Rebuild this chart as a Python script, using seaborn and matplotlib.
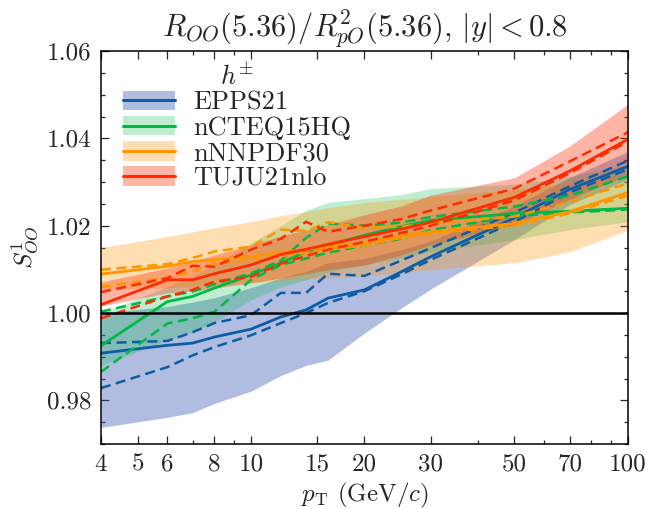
import numpy as np
import pandas as pd
import matplotlib
matplotlib.use("Agg")
import matplotlib.pyplot as plt
from matplotlib.patches import Patch
from matplotlib.lines import Line2D
from matplotlib.ticker import FixedLocator, NullFormatter, MultipleLocator
import seaborn as sns

# ---------------- data ----------------
pt = [4, 6, 7, 8, 10, 12, 14, 16, 20, 25, 30, 50, 70, 100]

epps_c = [0.9908, 0.9926, 0.9931, 0.9945, 0.9963, 0.9991, 1.0007, 1.0034, 1.0053, 1.0094, 1.0129, 1.0218, 1.0283, 1.0336]
epps_hi = [0.9931, 0.9936, 0.9956, 0.9977, 0.9995, 1.0046, 1.0046, 1.0090, 1.0085, 1.0120, 1.0149, 1.0230, 1.0290, 1.0349]
epps_lo = [0.9828, 0.9876, 0.9903, 0.9922, 0.9949, 0.9977, 1.0000, 1.0023, 1.0050, 1.0088, 1.0122, 1.0209, 1.0276, 1.0329]
epps_band_lo = [0.9738, 0.9761, 0.9772, 0.9793, 0.9821, 0.9857, 0.9880, 0.9892, 0.9954, 1.0011, 1.0055, 1.0168, 1.0248, 1.0306]
epps_band_hi = [1.0000, 1.0015, 1.0025, 1.0035, 1.0058, 1.0080, 1.0095, 1.0115, 1.0125, 1.0145, 1.0165, 1.0245, 1.0310, 1.0370]

ncteq_c = [0.9925, 1.0026, 1.0038, 1.0057, 1.0087, 1.0115, 1.0140, 1.0156, 1.0178, 1.0198, 1.0212, 1.0228, 1.0233, 1.0240]
ncteq_hi = [1.0003, 1.0038, 1.0049, 1.0066, 1.0091, 1.0120, 1.0172, 1.0205, 1.0200, 1.0207, 1.0220, 1.0244, 1.0269, 1.0313]
ncteq_lo = [0.9865, 0.9976, 0.9988, 1.0003, 1.0076, 1.0110, 1.0125, 1.0138, 1.0155, 1.0170, 1.0190, 1.0222, 1.0230, 1.0237]
ncteq_band_lo = [0.9880, 0.9938, 0.9956, 0.9979, 1.0030, 1.0060, 1.0076, 1.0094, 1.0110, 1.0126, 1.0140, 1.0168, 1.0191, 1.0209]
ncteq_band_hi = [1.0000, 1.0060, 1.0085, 1.0110, 1.0160, 1.0200, 1.0235, 1.0253, 1.0262, 1.0271, 1.0285, 1.0295, 1.0312, 1.0340]

nnpdf_c = [1.0089, 1.0107, 1.0118, 1.0122, 1.0130, 1.0138, 1.0145, 1.0152, 1.0161, 1.0177, 1.0186, 1.0205, 1.0232, 1.0276]
nnpdf_hi = [1.0099, 1.0112, 1.0126, 1.0141, 1.0152, 1.0191, 1.0188, 1.0208, 1.0195, 1.0198, 1.0205, 1.0221, 1.0255, 1.0297]
nnpdf_lo = [1.0060, 1.0081, 1.0095, 1.0114, 1.0122, 1.0130, 1.0138, 1.0145, 1.0155, 1.0172, 1.0182, 1.0200, 1.0228, 1.0269]
nnpdf_band_lo = [1.0053, 1.0058, 1.0060, 1.0064, 1.0069, 1.0073, 1.0078, 1.0080, 1.0085, 1.0092, 1.0099, 1.0115, 1.0140, 1.0190]
nnpdf_band_hi = [1.0150, 1.0175, 1.0186, 1.0195, 1.0209, 1.0223, 1.0232, 1.0241, 1.0253, 1.0260, 1.0267, 1.0283, 1.0297, 1.0315]

tuju_c = [1.0019, 1.0076, 1.0076, 1.0090, 1.0110, 1.0134, 1.0146, 1.0157, 1.0175, 1.0192, 1.0208, 1.0265, 1.0325, 1.0398]
tuju_hi = [1.0048, 1.0080, 1.0108, 1.0106, 1.0145, 1.0170, 1.0209, 1.0186, 1.0200, 1.0215, 1.0235, 1.0285, 1.0347, 1.0414]
tuju_lo = [0.9988, 1.0038, 1.0053, 1.0072, 1.0083, 1.0113, 1.0131, 1.0145, 1.0163, 1.0183, 1.0200, 1.0258, 1.0320, 1.0393]
tuju_band_lo = [1.0016, 1.0046, 1.0050, 1.0057, 1.0069, 1.0080, 1.0090, 1.0099, 1.0110, 1.0133, 1.0156, 1.0202, 1.0260, 1.0317]
tuju_band_hi = [1.0071, 1.0103, 1.0118, 1.0133, 1.0156, 1.0176, 1.0190, 1.0202, 1.0225, 1.0245, 1.0270, 1.0310, 1.0382, 1.0478]

names = ["EPPS21", "nCTEQ15HQ", "nNNPDF30", "TUJU21nlo"]
line_colors = ["#0C5DA5", "#00B945", "#FF9500", "#FF2C00"]
band_colors = ["#3A5BB5", "#00B945", "#FF9500", "#FF2C00"]
band_alphas = [0.40, 0.25, 0.30, 0.35]

xticks = [4, 5, 6, 8, 10, 15, 20, 30, 50, 70, 100]
xminor = [7, 9, 40, 60, 80, 90]

# ---------------- style ----------------
sns.set_theme(style="ticks")
plt.rcParams.update({
    "font.family": "serif",
    "font.serif": ["cmr10", "DejaVu Serif"],
    "mathtext.fontset": "cm",
    "axes.formatter.use_mathtext": True,
    "axes.unicode_minus": False,
    "font.size": 17,
    "xtick.direction": "in",
    "ytick.direction": "in",
    "xtick.top": True,
    "ytick.right": True,
    "xtick.major.size": 5.5,
    "ytick.major.size": 5.5,
    "xtick.minor.size": 3,
    "ytick.minor.size": 3,
    "xtick.major.width": 0.9,
    "ytick.major.width": 0.9,
    "xtick.minor.width": 0.9,
    "ytick.minor.width": 0.9,
    "axes.linewidth": 1.1,
    "axes.edgecolor": "black",
})

fig = plt.figure(figsize=(6.49, 5.09), dpi=100)
ax = fig.add_axes([0.1556, 0.1277, 0.8120, 0.7721])

series = [
    (epps_c, epps_hi, epps_lo, epps_band_lo, epps_band_hi),
    (ncteq_c, ncteq_hi, ncteq_lo, ncteq_band_lo, ncteq_band_hi),
    (nnpdf_c, nnpdf_hi, nnpdf_lo, nnpdf_band_lo, nnpdf_band_hi),
    (tuju_c, tuju_hi, tuju_lo, tuju_band_lo, tuju_band_hi),
]

for i, (c, hi, lo, blo, bhi) in enumerate(series):
    ax.fill_between(pt, blo, bhi, color=band_colors[i], alpha=band_alphas[i], lw=0)

for i, (c, hi, lo, blo, bhi) in enumerate(series):
    df = pd.DataFrame({"pt": pt, "c": c, "hi": hi, "lo": lo})
    sns.lineplot(data=df, x="pt", y="hi", color=line_colors[i], lw=1.8,
                 linestyle=(0, (4, 2.2)), ax=ax)
    sns.lineplot(data=df, x="pt", y="lo", color=line_colors[i], lw=1.8,
                 linestyle=(0, (4, 2.2)), ax=ax)
    sns.lineplot(data=df, x="pt", y="c", color=line_colors[i], lw=2.0, ax=ax)

ax.axhline(1.0, color="black", lw=1.8, zorder=5)

ax.set_xscale("log")
ax.set_xlim(4, 100)
ax.set_ylim(0.97, 1.06)
ax.xaxis.set_major_locator(FixedLocator(xticks))
ax.set_xticklabels([str(t) for t in xticks])
ax.xaxis.set_minor_locator(FixedLocator(xminor))
ax.xaxis.set_minor_formatter(NullFormatter())
ax.yaxis.set_major_locator(MultipleLocator(0.02))
ax.yaxis.set_minor_locator(MultipleLocator(0.005))
ax.set_yticks([0.98, 1.00, 1.02, 1.04, 1.06])
ax.set_yticklabels(["0.98", "1.00", "1.02", "1.04", "1.06"])
ax.tick_params(axis="both", which="major", labelsize=18, pad=7)

ax.set_xlabel(r"$p_{\rm T}$ (GeV/$c$)", fontsize=18, labelpad=4)
ax.set_ylabel(r"$S^{1}_{OO}$", fontsize=18, labelpad=4)
ax.set_title(r"$R_{OO}(5.36)/R^{2}_{pO}(5.36)$, $|y|<0.8$", fontsize=22, pad=8)

handles = [(Patch(facecolor=band_colors[i], alpha=band_alphas[i], lw=0),
            Line2D([], [], color=line_colors[i], lw=2.2)) for i in range(4)]
leg = ax.legend(handles, names, title=r"$h^{\pm}\qquad$", loc="upper left",
                bbox_to_anchor=(0.012, 1.012), frameon=False, fontsize=19,
                title_fontsize=19, handlelength=1.95, handleheight=0.75,
                labelspacing=0.05, handletextpad=0.7, borderaxespad=0.2)

fig.savefig("out.png", dpi=100)
